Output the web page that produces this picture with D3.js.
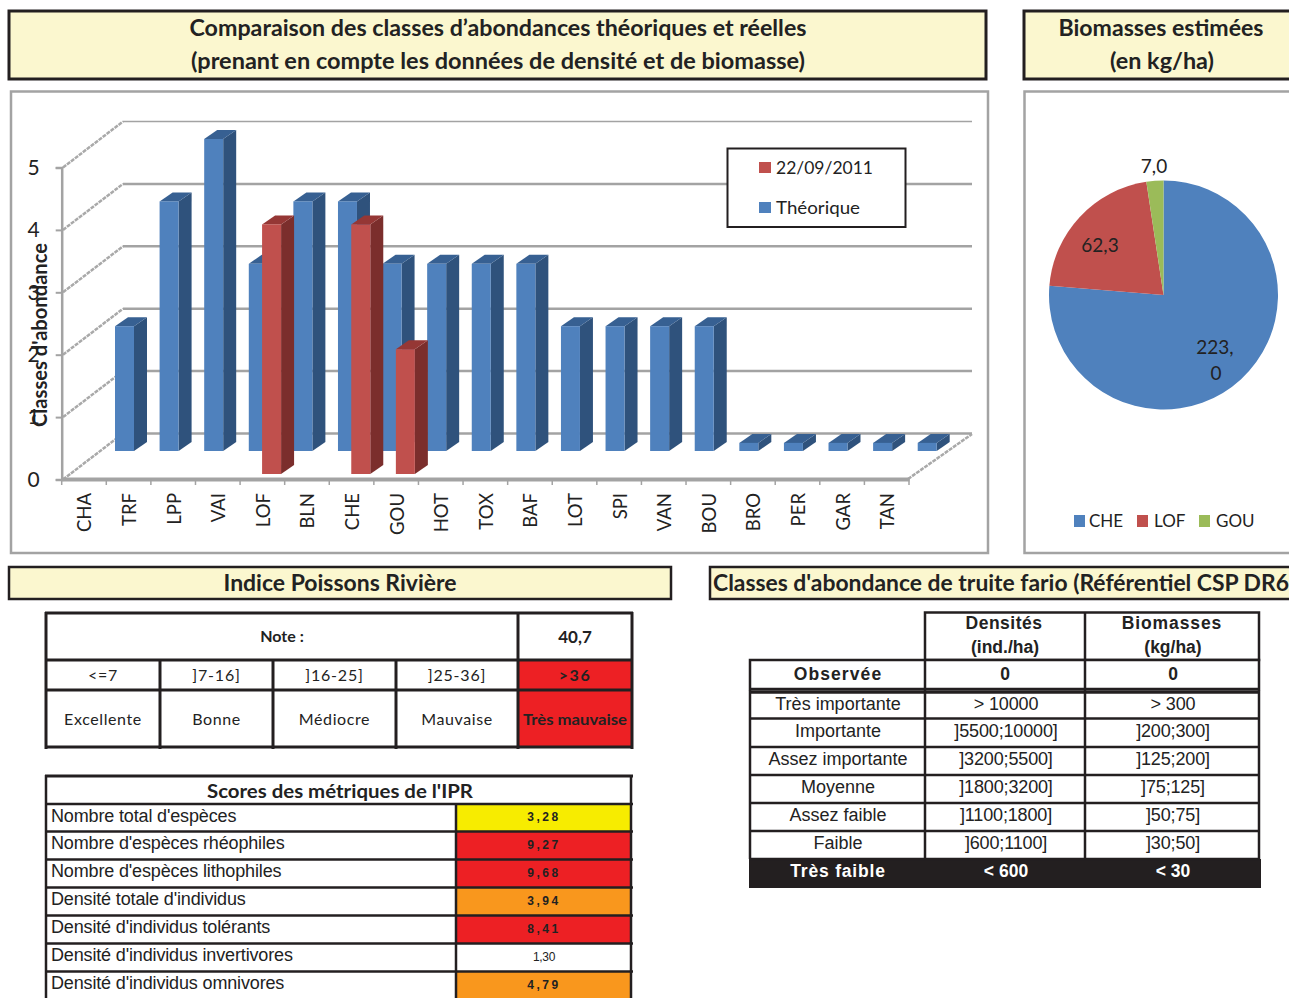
<!DOCTYPE html>
<html>
<head>
<meta charset="utf-8">
<script src="https://cdn.jsdelivr.net/npm/d3@7"></script>
<style>
	html, body {margin:0; padding:0; background:#fff; overflow:hidden;}
	svg {display:block;}
	text {fill:#222;}
</style>
</head>
<body>
<div id="page"></div>
<script>
// chart data
const species = ['CHA','TRF','LPP','VAI','LOF','BLN','CHE','GOU','HOT','TOX','BAF','LOT','SPI','VAN','BOU','BRO','PER','GAR','TAN'];
const theorique = [2,4,5,3,4,4,3,3,3,3,2,2,2,2,0.13,0.13,0.13,0.13,0.13];
const observed = [0,0,0,0,4,0,4,2,0,0,0,0,0,0,0,0,0,0,0];
const yTicks = [0,1,2,3,4,5];
const pieNames = ['CHE','LOF','GOU'];
const pieValues = [223.0,62.3,7.0];

const noteBounds = ['<=7',']7-16]',']16-25]',']25-36]','>36'];
const noteClasses = ['Excellente','Bonne','Médiocre','Mauvaise','Très mauvaise'];
const noteValue = '40,7';

const metricNames = ["Nombre total d'espèces","Nombre d'espèces rhéophiles","Nombre d'espèces lithophiles","Densité totale d'individus","Densité d'individus tolérants","Densité d'individus invertivores","Densité d'individus omnivores"];
const metricScores = [3.28,9.27,9.68,3.94,8.41,1.30,4.79];

const troutClasses = ['Très importante','Importante','Assez importante','Moyenne','Assez faible','Faible','Très faible'];
const troutDensity = ['> 10000',']5500;10000]',']3200;5500]',']1800;3200]',']1100;1800]',']600;1100]','< 600'];
const troutBiomass = ['> 300',']200;300]',']125;200]',']75;125]',']50;75]',']30;50]','< 30'];

const calibri = 'Lato, Carlito, sans-serif',
	arial = '"Liberation Sans", Arial, sans-serif',
	blue = {front:'#4f81bd', side:'#2f527c', top:'#376092'},
	red = {front:'#c0504d', side:'#7b2e2c', top:'#953735'},
	gridGrey = '#a3a3a3',
	dark = '#231f20',
	cream = '#fbf7cf';

const svg = d3.select('#page').append('svg').attr('width', 1289).attr('height', 998);

function addText(parent, str, x, y, opt = {}){
	let t = parent.append('text')
		.attr('x', x).attr('y', y)
		.attr('text-anchor', opt.anchor || 'middle')
		.style('font-family', opt.font || calibri)
		.style('font-size', (opt.size || 16) + 'px')
		.style('font-weight', opt.bold ? 'bold' : 'normal')
		.style('letter-spacing', (opt.spacing || 0) + 'px')
		.text(str);
	if(opt.fill){
		t.style('fill', opt.fill);
	}
	if(opt.fit){
		t.attr('textLength', opt.fit).attr('lengthAdjust', 'spacingAndGlyphs');
	}
	return t;
}

function addRect(parent, x0, y0, x1, y1, fill, stroke, sw){
	return parent.append('rect')
		.attr('x', x0).attr('y', y0)
		.attr('width', x1 - x0).attr('height', y1 - y0)
		.attr('fill', fill)
		.attr('stroke', stroke || 'none')
		.attr('stroke-width', sw || 0);
}

function addLine(parent, x0, y0, x1, y1, color, sw){
	return parent.append('line')
		.attr('x1', x0).attr('y1', y0)
		.attr('x2', x1).attr('y2', y1)
		.attr('stroke', color)
		.attr('stroke-width', sw);
}

// title banners
addRect(svg, 9, 11, 986, 79, cream, dark, 3);
addRect(svg, 1024, 11, 1295, 79, cream, dark, 3);
addRect(svg, 9, 567, 671, 599, cream, dark, 2.5);
addRect(svg, 710, 567, 1295, 599, cream, dark, 2.5);
addText(svg, "Comparaison des classes d’abondances théoriques et réelles", 498, 36, {size:22, bold:true, fit:617});
addText(svg, "(prenant en compte les données de densité et de biomasse)", 498, 69, {size:22, bold:true, fit:614});
addText(svg, 'Biomasses estimées', 1161, 36, {size:22, bold:true, fit:205});
addText(svg, '(en kg/ha)', 1162, 69, {size:22, bold:true, fit:104});
addText(svg, 'Indice Poissons Rivière', 340, 591, {size:22, bold:true, fit:233});
addText(svg, "Classes d'abondance de truite fario (Référentiel CSP DR6", 713, 591, {size:22, bold:true, anchor:'start', fit:576});

// chart frames
addRect(svg, 11, 91.5, 988, 553, '#fff', gridGrey, 2.5);
addRect(svg, 1024.5, 91.5, 1295, 553, '#fff', gridGrey, 2.5);

/* ---------- 3D bar chart ---------- */
function drawBars(){
	const g = svg.append('g'),
		wallX = 61,
		wallY = -46,
		barW = 19,
		depthX = 13,
		depthY = -9;

	const scaleX = d3.scaleBand().domain(species).range([61.7, 909]);
	const scaleY = d3.scaleLinear().domain([0, 5]).range([479.5, 167.5]);

	// back wall gridlines
	g.selectAll('line.grid').data(yTicks).join('line')
		.attr('class', 'grid')
		.attr('x1', 62 + wallX).attr('x2', 972)
		.attr('y1', d => scaleY(d) + wallY).attr('y2', d => scaleY(d) + wallY)
		.attr('stroke', gridGrey)
		.attr('stroke-width', d => d === 5 ? 1.5 : 2.5);

	// side wall diagonals
	g.selectAll('line.wall').data(yTicks).join('line')
		.attr('class', 'wall')
		.attr('x1', 63).attr('x2', 62 + wallX)
		.attr('y1', d => scaleY(d)).attr('y2', d => scaleY(d) + wallY)
		.attr('stroke', '#a9a9a9')
		.attr('stroke-width', 2.5)
		.attr('stroke-dasharray', '4 1');
	addLine(g, 908, 479, 972, 434, '#a9a9a9', 2.5).attr('stroke-dasharray', '4 1');

	// left axis
	const axisY = d3.axisLeft(scaleY).tickValues(yTicks).tickSize(6).tickPadding(16).tickFormat(d3.format('d'));
	const gy = g.append('g').attr('transform', 'translate(61.7,0)').call(axisY);
	gy.select('.domain').attr('stroke', gridGrey).attr('stroke-width', 2.5);
	gy.selectAll('.tick line').attr('stroke', gridGrey).attr('stroke-width', 2);
	gy.selectAll('.tick text').style('font-family', calibri).style('font-size', '21px').style('fill', '#222');

	// bottom axis, labels centred on the band, ticks on the band edges
	const axisX = d3.axisBottom(scaleX).tickSize(0).tickPadding(0);
	const gx = g.append('g').attr('transform', 'translate(0,479)').call(axisX);
	gx.select('.domain').attr('stroke', gridGrey).attr('stroke-width', 4);
	gx.selectAll('.tick text')
		.attr('transform', 'rotate(-90)')
		.attr('x', -14).attr('y', 1).attr('dy', '0.35em')
		.attr('text-anchor', 'end')
		.style('font-family', calibri).style('font-size', '18.5px').style('fill', '#222');
	g.selectAll('line.edge').data(d3.range(species.length + 1)).join('line')
		.attr('class', 'edge')
		.attr('x1', d => scaleX.range()[0] + d * scaleX.step())
		.attr('x2', d => scaleX.range()[0] + d * scaleX.step())
		.attr('y1', 479).attr('y2', 485)
		.attr('stroke', gridGrey).attr('stroke-width', 1.5);

	function row(values, colors, shiftX, shiftY){
		const rows = species.map((s, i) => ({s:s, v:values[i]})).filter(d => d.v > 0);
		const px = d => scaleX(d.s) + shiftX;
		const ptop = d => scaleY(d.v) + shiftY;
		const base = scaleY(0) + shiftY;
		const layer = g.append('g');
		layer.selectAll('path.side').data(rows).join('path')
			.attr('d', d => d3.line()([[px(d) + barW, ptop(d)], [px(d) + barW + depthX, ptop(d) + depthY], [px(d) + barW + depthX, base + depthY], [px(d) + barW, base]]) + 'Z')
			.attr('fill', colors.side);
		layer.selectAll('path.top').data(rows).join('path')
			.attr('d', d => d3.line()([[px(d), ptop(d)], [px(d) + barW, ptop(d)], [px(d) + barW + depthX, ptop(d) + depthY], [px(d) + depthX, ptop(d) + depthY]]) + 'Z')
			.attr('fill', colors.top);
		layer.selectAll('rect').data(rows).join('rect')
			.attr('x', px).attr('y', ptop)
			.attr('width', barW)
			.attr('height', d => base - ptop(d))
			.attr('fill', colors.front);
	}

	// back row then front row
	row(theorique, blue, 53.3, -28.5);
	row(observed, red, 22, -5.5);

	// legend
	addRect(g, 727.5, 148.5, 905.5, 227, '#fff', dark, 2);
	addRect(g, 759, 162, 771, 173, red.front);
	addRect(g, 759, 202, 771, 213, blue.front);
	addText(g, '22/09/2011', 776, 174, {size:18, anchor:'start', fit:97});
	addText(g, 'Théorique', 776, 214, {size:18, anchor:'start', fit:84});

	// axis title comes last, it sits over the tick labels
	addText(g, "Classes d'abondance", 0, 0, {size:20, bold:true, fit:184})
		.attr('transform', 'translate(47,335) rotate(-90)');
}
drawBars();

/* ---------- pie ---------- */
function drawPie(){
	const colors = d3.scaleOrdinal().domain(pieNames).range([blue.front, red.front, '#9bbb59']);
	const pie = d3.pie().sort(null);
	const arc = d3.arc().innerRadius(0).outerRadius(114.5);
	const g = svg.append('g').attr('transform', 'translate(1163.5,295)');
	g.selectAll('path').data(pie(pieValues)).join('path')
		.attr('d', arc)
		.attr('fill', (d, i) => colors(pieNames[i]));

	const fmt = v => d3.format('.1f')(v).replace('.', ',');
	addText(svg, fmt(pieValues[2]), 1154, 173, {size:19});
	addText(svg, fmt(pieValues[1]), 1100, 252, {size:19});
	// the big label wraps in the original
	let big = fmt(pieValues[0]).split(',');
	addText(svg, big[0] + ',', 1215, 354, {size:19});
	addText(svg, big[1], 1216, 380, {size:19});

	const legendX = [1074, 1137, 1199];
	const textX = [1089, 1154, 1216];
	pieNames.forEach(function(name, i){
		addRect(svg, legendX[i], 515, legendX[i] + 11, 527, colors(name));
		addText(svg, name, textX[i], 527, {size:17, anchor:'start'});
	});
}
drawPie();

/* ---------- note table ---------- */
function drawNote(){
	const g = svg.append('g'),
		xs = [46, 160, 273, 396, 518, 632],
		ys = [613, 660, 690, 747],
		red = '#ed2024';
	addRect(g, 518, 660, 632, 748, red);
	ys.forEach(y => addLine(g, 45, y, 633, y, dark, 3));
	xs.forEach(function(x, i){
		addLine(g, x, i === 0 || i >= 4 ? 612 : 660, x, 749, dark, 3);
	});
	addText(g, 'Note :', 282, 642, {size:16, bold:true});
	addText(g, noteValue, 575, 643, {size:17, bold:true});
	noteBounds.forEach(function(d, i){
		let cx = (xs[i] + xs[i + 1]) / 2;
		addText(g, d, cx, 681, {size:16, bold:i === 4, spacing:i === 4 ? 1.5 : 0.8});
		addText(g, noteClasses[i], i === 4 ? 575 : cx, 725, {size:16, bold:i === 4, spacing:i === 4 ? 0 : 0.6, fit:i === 4 ? 104 : null});
	});
}
drawNote();

/* ---------- IPR metric scores ---------- */
function drawMetrics(){
	const g = svg.append('g'),
		scoreColor = d3.scaleThreshold().domain([2, 3.5, 7]).range(['#fff', '#f7ec00', '#f9971d', '#ed2024']),
		fmt = d => d3.format('.2f')(d).replace('.', ','),
		ys = [804, 831.5, 859.5, 887.5, 915.5, 943.5, 971.5, 999.5];
	addLine(g, 45, 776, 633, 776, dark, 3);
	addText(g, "Scores des métriques de l'IPR", 340, 798, {size:19, bold:true, fit:266});
	metricNames.forEach(function(name, i){
		addRect(g, 457, ys[i], 630, ys[i + 1], scoreColor(metricScores[i]));
		addText(g, name, 51, ys[i] + 17.5, {size:18, font:arial, anchor:'start', spacing:-0.15});
		let high = metricScores[i] > 2;
		addText(g, fmt(metricScores[i]), 544, ys[i] + 17, {size:12, font:arial, bold:high, spacing:high ? 2.5 : -0.3});
	});
	ys.forEach(y => addLine(g, 45, y, 633, y, dark, 2.5));
	addLine(g, 46, 775, 46, 998, dark, 2.5);
	addLine(g, 631, 775, 631, 998, dark, 2.5);
	addLine(g, 456, 804, 456, 998, dark, 2.5);
}
drawMetrics();

/* ---------- trout classes ---------- */
function drawTrout(){
	const g = svg.append('g'),
		centers = [838, 1005, 1173],
		ys = [692, 718.5, 747, 775, 803, 831, 859, 888];

	// header and observed row
	addRect(g, 925, 612.5, 1259, 660, '#fff', dark, 2.5);
	addLine(g, 1085, 612, 1085, 660, dark, 2.5);
	addRect(g, 750, 660, 1259, 689, '#fff', dark, 2.5);
	addLine(g, 925, 660, 925, 689, dark, 2.5);
	addLine(g, 1085, 660, 1085, 689, dark, 2.5);
	addText(g, 'Densités', centers[1] - 1, 629, {size:17.5, bold:true, font:arial, spacing:0.5});
	addText(g, '(ind./ha)', centers[1], 653, {size:17.5, bold:true, font:arial});
	addText(g, 'Biomasses', centers[2] - 1, 629, {size:17.5, bold:true, font:arial, spacing:0.9});
	addText(g, '(kg/ha)', centers[2], 653, {size:17.5, bold:true, font:arial});
	addText(g, 'Observée', centers[0], 680, {size:17.5, bold:true, font:arial, spacing:1.1});
	addText(g, '0', centers[1], 680, {size:17.5, bold:true, font:arial});
	addText(g, '0', centers[2], 680, {size:17.5, bold:true, font:arial});

	// class rows, the last one is the black reversed row
	addRect(g, 749, 859, 1261, 888, dark);
	ys.slice(0, -1).forEach(y => addLine(g, 750, y, 1260, y, dark, y === 692 ? 3.5 : 2.5));
	[750, 925, 1085, 1259].forEach(x => addLine(g, x, 690, x, 859, dark, 2.5));
	troutClasses.forEach(function(name, i){
		let last = i === troutClasses.length - 1,
			opt = {size:18, font:arial, bold:last, fill:last ? '#fff' : null},
			y = ys[i] + 18;
		addText(g, name, centers[0], y, Object.assign({}, opt, {size:last ? 17.5 : 18, spacing:last ? 0.8 : 0}));
		addText(g, troutDensity[i], centers[1] + 1, y, Object.assign({}, opt, {size:last ? 17.5 : 18, spacing:last ? 0 : -0.15}));
		addText(g, troutBiomass[i], centers[2], y, Object.assign({}, opt, {size:last ? 17.5 : 18, spacing:last ? 0 : -0.15}));
	});
}
drawTrout();
</script>
</body>
</html>
